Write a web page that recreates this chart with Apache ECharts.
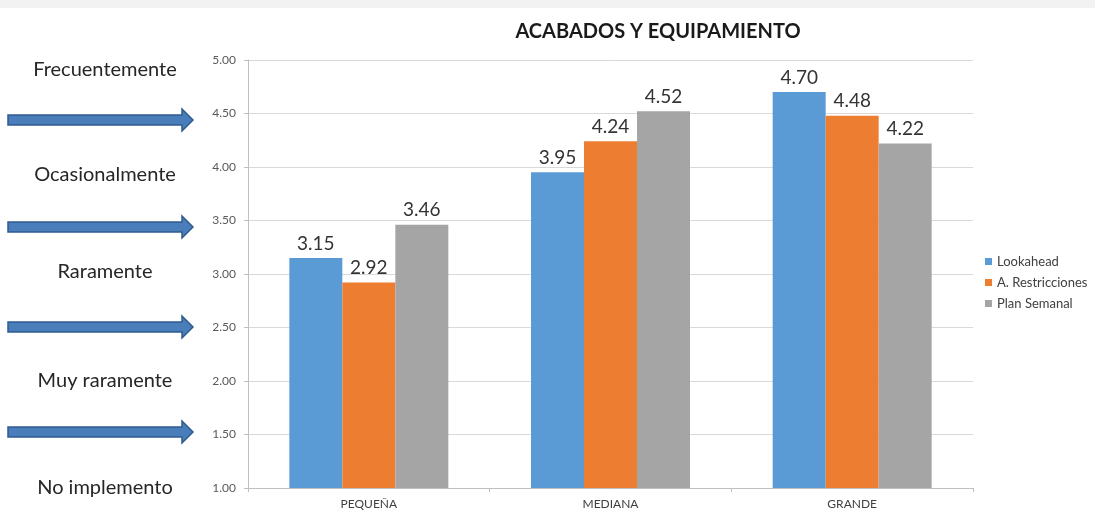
<!DOCTYPE html>
<html>
<head>
<meta charset="utf-8">
<script src="https://cdn.jsdelivr.net/npm/echarts@6/dist/echarts.min.js"></script>
<style>
  html, body { margin: 0; padding: 0; background: #fff; }
  #chart { width: 1095px; height: 512px; }
</style>
</head>
<body>
<div id="chart"></div>
<script>
// datos del gráfico
const categories = ['PEQUEÑA', 'MEDIANA', 'GRANDE'];
const lookahead = [3.15, 3.95, 4.70];
const restricciones = [2.92, 4.24, 4.48];
const planSemanal = [3.46, 4.52, 4.22];
const nivelLabels = ['Frecuentemente', 'Ocasionalmente', 'Raramente', 'Muy raramente', 'No implemento'];
const nivelY = [70, 175, 272, 381, 488];
const arrowY = [120, 227, 327, 432];

const font = 'Lato, "Open Sans", sans-serif';
const chart = echarts.init(document.getElementById('chart'));

function serie(name, data, color) {
  return {
    name: name,
    type: 'bar',
    data: data,
    barWidth: 53,
    barGap: '0%',
    itemStyle: { color: color },
    label: {
      show: true,
      position: 'top',
      formatter: p => p.value.toFixed(2),
      fontSize: 19,
      fontFamily: font,
      color: '#333333',
      distance: 5
    }
  };
}

const option = {
  animation: false,
  title: {
    text: 'ACABADOS Y EQUIPAMIENTO',
    left: 653,
    top: 17,
    textAlign: 'center',
    textStyle: { fontSize: 20, fontWeight: 'bold', fontFamily: font, color: '#1a1a1a' }
  },
  legend: {
    orient: 'vertical',
    left: 980,
    top: 250,
    itemWidth: 7,
    itemHeight: 7,
    itemGap: 8,
    icon: 'rect',
    textStyle: { fontSize: 13, fontFamily: font, color: '#404040' },
    data: ['Lookahead', 'A. Restricciones', 'Plan Semanal']
  },
  grid: { left: 248, right: 122, top: 60, bottom: 24 },
  xAxis: {
    type: 'category',
    data: categories,
    axisLine: { lineStyle: { color: '#bfbfbf' } },
    axisTick: { show: true, alignWithLabel: false, length: 4, lineStyle: { color: '#bfbfbf' } },
    axisLabel: { fontSize: 12, fontFamily: font, color: '#404040', margin: 10 }
  },
  yAxis: {
    type: 'value',
    min: 1,
    max: 5,
    interval: 0.5,
    axisLine: { show: true, lineStyle: { color: '#bfbfbf' } },
    axisTick: { show: true, length: 4, lineStyle: { color: '#bfbfbf' } },
    axisLabel: { formatter: v => v.toFixed(2), fontSize: 12, fontFamily: font, color: '#595959', margin: 12 },
    splitLine: { lineStyle: { color: '#d9d9d9' } }
  },
  series: [
    serie('Lookahead', lookahead, '#5b9bd5'),
    serie('A. Restricciones', restricciones, '#ed7d31'),
    serie('Plan Semanal', planSemanal, '#a5a5a5')
  ]
};

chart.setOption(option);

// anotaciones de la izquierda: textos y flechas
const graphics = [
  { type: 'rect', shape: { x: 0, y: 0, width: 1095, height: 8 }, style: { fill: '#f2f2f2' }, silent: true }
];
nivelLabels.forEach((t, i) => {
  graphics.push({
    type: 'text',
    x: 105,
    y: nivelY[i],
    style: { text: t, fontSize: 20, fontFamily: font, fill: '#262626', align: 'center', verticalAlign: 'middle' }
  });
});
arrowY.forEach(y => {
  graphics.push({
    type: 'polygon',
    shape: {
      points: [[8, y - 5], [182, y - 5], [182, y - 11], [193, y], [182, y + 11], [182, y + 5], [8, y + 5]]
    },
    style: { fill: '#4a7ebb', stroke: '#2f5b8f', lineWidth: 1.5 }
  });
});
chart.setOption({ graphic: graphics });
</script>
</body>
</html>
